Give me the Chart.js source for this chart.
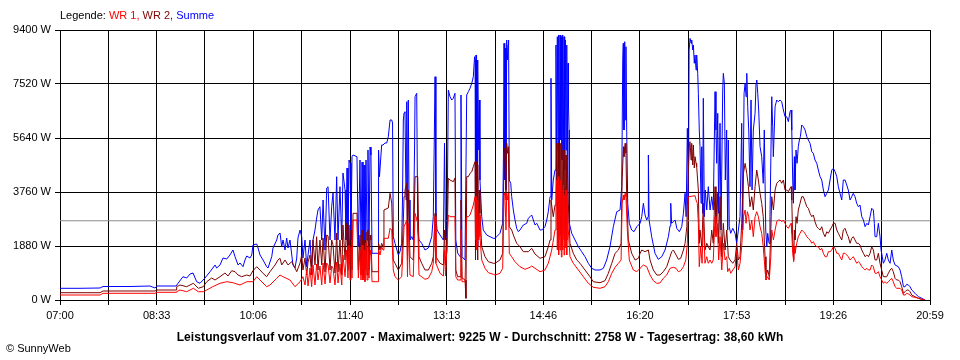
<!DOCTYPE html>
<html><head><meta charset="utf-8">
<script src="https://cdn.jsdelivr.net/npm/chart.js@4/dist/chart.umd.min.js"></script>
<style>
html,body{margin:0;padding:0;background:#fff;}
#wrap{position:relative;width:960px;height:360px;overflow:hidden;}
canvas{position:absolute;left:0;top:0;}
.t{position:absolute;font-family:"Liberation Sans",Arial,sans-serif;font-size:11px;color:#000;white-space:nowrap;line-height:13px;}
</style></head><body>
<div id="wrap">
<canvas id="c" width="960" height="360"></canvas>
<div class="t" style="left:60px;top:9px">Legende: <span style="color:#ff0000">WR 1,</span> <span style="color:#800000">WR 2,</span> <span style="color:#0000ff">Summe</span></div>
<div class="t" style="left:0;width:960px;text-align:center;top:330px;font-weight:bold;font-size:12px;letter-spacing:0.1px;line-height:14px">Leistungsverlauf vom 31.07.2007 - Maximalwert: 9225 W - Durchschnitt: 2758 W - Tagesertrag: 38,60 kWh</div>
<div class="t" style="left:6px;top:342px">© SunnyWeb</div>
</div>
<script>
// time axis: minutes after 07:00
const xGridMinutes = [0,46.6,93.2,139.8,186.4,233.1,279.7,326.3,372.9,419.5,466.1,512.7,559.3,605.9,652.6,699.2,745.8,792.4,839];
const xTickLabels = ['07:00','08:33','10:06','11:40','13:13','14:46','16:20','17:53','19:26','20:59'];
const yMax = 9400, yStep = 1880;
const averageW = 2758;

const summeMin = [0,19.3,38.6,41.5,67.5,86.8,91.6,93.5,111.9,113.8,118.6,122.2,125.4,128.3,131.8,135.0,139.8,144.7,149.5,151.1,154.3,157.2,160.8,163.9,166.8,168.8,171.7,173.6,176.5,178.4,180.1,183.2,184.9,186.1,189.7,191.0,192.9,195.8,199.3,200.6,204.2,205.4,209.0,210.2,212.2,213.8,215.1,217.0,218.6,219.9,221.8,223.5,224.7,226.6,228.3,229.5,231.5,233.1,234.3,236.3,237.9,239.2,241.1,242.7,244.0,245.9,247.5,248.8,250.7,252.4,253.7,255.6,257.2,258.5,260.4,262.0,263.3,265.2,266.8,268.1,270.0,271.7,272.9,274.9,275.8,276.8,277.7,278.7,279.7,280.6,281.6,282.6,286.4,287.7,289.3,290.3,291.3,292.2,293.2,294.1,295.1,296.1,297.0,298.0,299.0,299.9,300.9,306.7,307.2,308.1,310.2,311.5,313.4,315.1,316.6,318.3,319.9,320.7,321.4,323.1,326.3,327.9,329.5,330.3,331.1,331.8,332.7,333.7,334.4,335.1,335.9,336.6,337.5,339.2,340.7,341.9,342.4,344.0,345.0,346.2,348.8,352.0,355.2,358.5,360.0,361.7,362.5,363.6,366.5,369.7,370.8,371.8,373.2,374.5,376.1,377.8,379.3,380.9,381.7,383.5,385.8,386.7,387.7,390.6,392.2,393.8,395.4,397.1,398.6,399.8,400.3,400.7,401.2,401.7,402.2,402.6,403.1,403.8,404.4,405.0,406.7,408.2,411.5,414.7,417.9,419.5,424.3,426.9,427.7,428.2,428.9,429.4,430.1,430.8,431.4,432.1,432.6,433.3,434.7,435.6,437.2,438.8,440.4,442.0,443.6,446.8,450.1,451.6,453.3,454.9,456.5,458.1,459.8,462.9,464.6,467.7,469.4,470.9,472.6,473.5,474.2,475.7,477.4,478.3,479.0,479.6,480.3,480.9,481.5,482.2,482.9,483.5,484.1,484.8,485.4,486.1,486.7,487.3,488.0,488.7,489.2,489.9,490.4,490.9,491.2,493.5,496.7,499.9,503.1,506.3,509.5,512.8,516.0,520.8,524.0,527.2,530.4,533.6,536.9,540.1,541.7,542.7,543.2,543.9,544.6,545.2,545.8,546.5,547.5,549.0,551.3,553.6,556.2,559.4,561.0,562.6,564.2,565.8,567.1,567.4,568.1,570.6,573.8,577.0,580.3,583.5,586.7,588.3,589.0,589.8,591.5,593.2,594.8,597.3,599.6,601.2,602.8,603.8,605.0,606.0,606.7,607.6,608.6,609.2,610.2,610.8,611.7,612.4,613.4,614.0,615.0,615.6,616.5,617.2,618.2,618.9,619.8,620.4,621.4,622.3,623.7,625.2,626.9,628.5,630.0,631.7,632.6,633.3,634.3,635.2,636.5,637.5,639.1,639.7,640.7,641.6,642.9,643.9,644.5,645.4,646.8,648.8,651.0,652.6,654.2,655.8,657.4,658.4,659.7,660.7,661.6,662.3,663.2,664.2,665.4,666.4,667.4,668.6,670.3,671.2,671.9,672.9,673.8,675.1,676.7,678.2,679.2,680.6,681.6,682.5,683.8,684.7,686.4,687.3,687.9,689.6,691.2,692.7,694.4,696.0,697.6,699.2,700.8,702.4,704.0,705.0,705.7,706.6,707.2,708.2,708.8,709.8,710.8,712.0,713.0,714.0,715.3,716.9,718.5,720.2,721.7,723.3,725.0,726.5,728.1,729.8,731.3,733.0,734.6,736.2,737.8,739.5,741.0,742.6,744.3,745.8,747.5,749.1,750.6,752.2,753.9,755.4,757.1,758.7,760.2,761.9,763.5,765.0,766.7,768.3,769.9,771.5,773.2,774.8,776.4,778.1,779.6,781.2,782.8,784.4,785.3,786.0,787.6,789.2,790.8,791.8,793.0,794.0,795.6,797.3,798.8,800.5,802.1,803.6,805.3,808.5,810.1,811.7,813.4,815.0,816.6,818.2,819.7,821.4,824.6,827.8,831.1,834.2];
const summeW = [407,407,418,470,470,487,418,487,487,581,811,766,905,940,637,581,766,985,1219,1114,1219,1462,1427,1567,1741,1507,1219,1288,1159,1393,1532,1462,1567,1915,1950,1810,1567,1393,1159,1114,1507,1810,2089,2263,2333,1856,2089,1741,2159,1810,2089,1567,1219,1114,1462,2159,2437,2204,1462,2089,1159,1567,2089,1159,2089,2437,2855,3133,3248,2089,3482,1741,3899,3945,2089,3248,3725,2089,4293,2089,3945,2089,4422,3830,2089,4596,1856,4874,4770,2089,4989,5048,4989,1856,4874,1856,4804,1856,4700,1856,4874,2089,5222,1856,5327,5048,1626,1626,5222,4293,5396,5396,5466,5466,5685,6267,6267,6162,2204,1974,1567,1682,1974,3482,6267,6510,6556,3482,6904,2089,6963,3482,2089,2204,2089,5222,7078,7196,2437,2089,1974,1741,1810,2204,2900,7774,2900,2437,2263,2089,5466,2089,2263,7311,7078,6963,7023,7196,2089,1636,1507,7137,1507,1393,7137,7252,7370,7544,7774,8470,8356,2089,8530,3482,8356,1856,8007,5222,6963,4178,2900,2437,2263,2204,2148,2148,2322,2670,5222,8937,4178,8773,3830,9052,8356,8878,9052,4178,4063,3596,3133,2785,2496,2378,2437,2611,2670,2844,2900,2959,2785,2611,2670,2437,2437,2552,2785,3074,3596,7718,3482,4178,4526,8878,4178,9167,5222,9226,4526,9226,5570,9167,4874,9226,5222,9167,4526,9052,5222,8878,4874,8241,6730,5919,2670,2322,2089,1856,1682,1507,1278,1104,1044,1044,1104,1393,1856,2552,3074,3133,3945,8356,8937,5919,8993,6267,8819,5919,3367,2670,2437,2378,2552,2670,2900,3367,2959,2785,2900,5048,2785,2204,1626,1417,1507,1741,2204,2576,3367,2670,2726,2785,2496,2378,2552,3018,3715,2900,5978,3596,8704,9108,8937,9052,8704,8878,8241,8530,8007,8530,7892,7196,5919,5337,3367,5337,3018,7023,2900,3830,3133,3945,3133,3596,3133,7252,5919,4759,6500,3018,6152,2437,7311,7892,7544,4178,5919,2437,5570,2552,2322,2496,2322,1974,2437,2900,6152,2437,7196,7544,7078,7892,6730,5919,3945,6963,3830,5919,6500,7544,7659,7196,6615,5337,4989,4063,5919,2437,1856,2322,1974,2900,7078,6033,4989,6730,6963,6904,6963,6904,6615,6381,6381,6208,6556,6615,5919,4178,3367,4989,3830,5222,4759,5337,5570,5685,6093,6033,5919,5685,5570,5456,5163,5107,4874,4759,4526,4293,4178,3830,3596,3715,3830,4178,4526,4585,4467,4293,3945,3715,3482,4178,4178,4004,3830,3482,3596,3715,3596,3367,3248,3307,2900,2785,2552,2670,2611,2900,3193,3133,2670,2204,2204,2670,2204,1741,1507,1278,1393,1626,1393,1278,1741,1393,1219,1159,1044,811,463,463,547,522,463,348,233,115,59,0];

const wr2Min = [0,38.6,41.5,91.6,93.5,111.9,112.5,115.7,122.2,128.6,133.4,138.2,141.5,146.3,149.5,154.3,159.1,162.0,165.6,168.8,171.7,175.2,180.1,183.2,186.1,189.7,192.9,195.8,199.3,202.5,207.4,210.2,212.2,213.8,217.0,219.9,223.5,226.6,228.3,231.5,233.1,234.3,236.3,237.9,239.2,241.1,242.7,244.0,245.9,247.5,248.8,250.7,252.4,253.7,255.6,257.2,258.5,260.4,262.0,263.3,265.2,266.8,268.1,270.0,271.7,272.9,274.9,276.5,277.7,278.7,279.7,280.6,281.6,282.6,286.4,287.7,289.3,290.3,291.3,292.2,293.2,294.1,295.1,296.1,297.0,298.0,299.0,299.9,300.9,306.7,307.2,308.6,310.2,311.5,312.4,316.6,318.3,319.9,321.4,323.1,326.3,329.5,330.8,331.8,332.7,334.4,335.1,335.9,337.5,340.7,342.4,345.0,346.2,348.8,352.0,355.2,358.5,360.0,361.7,362.5,366.5,369.7,370.8,371.8,373.2,374.5,376.1,379.3,380.9,381.7,383.5,385.8,386.7,387.7,390.6,391.5,392.2,393.8,395.4,397.1,398.6,400.3,400.7,401.2,401.7,402.2,402.6,403.1,403.8,404.4,405.0,406.7,409.9,413.1,417.9,419.5,424.3,426.9,428.2,429.1,430.1,430.8,431.6,432.4,433.3,435.6,437.2,440.4,443.6,446.8,451.6,454.9,458.1,462.9,467.7,470.9,472.6,473.5,475.7,477.4,478.3,479.0,479.6,480.3,480.9,481.5,482.2,482.9,483.5,484.1,484.8,485.4,486.1,486.7,487.3,488.0,488.7,489.2,490.2,491.8,495.0,498.3,501.5,506.3,511.1,514.3,520.8,525.6,528.8,532.1,535.3,538.5,541.1,542.1,543.4,543.9,545.0,545.8,546.5,548.1,551.3,554.6,557.8,559.4,561.0,564.2,567.4,569.0,572.2,575.5,578.6,581.8,585.1,588.3,589.9,591.5,594.1,596.3,598.6,601.2,602.8,604.5,606.0,607.0,607.6,608.6,609.2,610.2,610.8,611.7,612.4,613.4,614.0,615.6,616.5,617.2,618.9,620.4,622.0,623.7,625.2,626.9,628.5,630.0,631.7,632.6,633.9,635.2,636.5,638.2,639.7,641.4,643.0,644.5,646.2,648.8,651.0,652.6,654.2,655.8,657.4,659.1,660.7,662.3,663.9,665.4,667.1,668.6,670.3,671.9,673.5,675.1,676.7,678.2,679.9,680.8,682.5,684.0,685.5,686.4,688.0,689.6,691.2,692.7,694.4,696.0,697.6,699.2,700.8,702.4,704.0,705.0,705.7,706.6,707.6,708.2,708.8,709.8,710.8,712.0,713.7,715.3,716.9,718.5,720.2,721.7,723.3,725.0,726.5,728.1,729.8,731.3,733.0,734.6,736.2,737.8,739.5,741.0,742.6,744.3,745.8,747.5,749.1,750.6,752.2,753.9,755.4,757.1,758.7,760.2,761.9,763.5,765.0,766.7,768.3,769.9,771.5,773.2,774.8,776.4,778.1,779.6,781.2,782.8,784.4,786.0,787.6,789.2,790.8,792.4,794.0,797.3,798.8,800.5,802.1,803.6,805.3,806.9,808.5,810.1,811.7,813.4,815.0,816.6,818.2,819.7,821.4,824.6,827.8,831.1,834.2];
const wr2W = [254,254,313,313,348,348,463,522,463,581,407,463,637,766,696,811,940,836,1020,985,870,811,870,836,1020,1159,1044,930,811,985,1219,1393,1452,1219,1393,1219,1333,1114,985,1288,1567,1044,1462,870,1323,1567,870,2089,1219,2204,1044,2089,1219,2159,975,2263,2228,1044,2089,1915,940,2333,975,2089,870,2611,1393,2670,1044,2611,1219,2437,1044,3018,3018,1044,2263,870,2437,801,2089,1044,2367,870,2437,1044,2263,2089,985,985,1974,1741,1974,1856,3133,3203,3715,3377,1393,1278,1044,1278,2437,3596,3830,4063,1393,3830,1507,1393,4293,4293,1507,1278,1044,1044,1278,1507,3018,1507,1278,1219,2437,1219,1741,4237,4178,4119,4247,1044,811,811,3482,766,696,59,4293,4293,4411,4467,4641,4815,1393,4815,2437,4700,1393,4526,2437,3830,3018,1856,1507,1333,1278,1278,1393,1626,4989,5292,3482,5456,5107,5337,2552,2437,2263,1974,1856,1682,1682,1800,1601,1452,1507,1856,2089,3482,2900,3307,3830,5456,2437,5456,2089,5396,2263,5456,1915,5222,2263,5396,2089,5222,2437,5048,2089,4874,3367,1974,1626,1393,1278,1044,811,637,602,672,930,1278,1626,1741,1974,4178,5337,4989,5456,5107,3596,2089,1626,1393,1452,1626,1741,1682,1741,1393,1044,870,870,985,1159,1507,1682,1741,1567,1417,1452,1741,1974,2552,4526,5456,5511,4874,5456,4700,5396,4596,4989,4759,4641,3830,1974,2437,1856,3367,1741,1974,1856,1741,2437,1974,3945,2670,3715,1974,3596,1507,2670,1741,2437,1507,1393,1278,1393,1974,1393,1507,2670,4411,4759,4411,3945,3248,3596,3133,3945,4526,4178,3715,3367,2900,1507,811,1044,811,2437,3596,3133,3830,4063,4119,4178,4063,4178,3830,3830,3770,3889,3945,3482,2089,1393,2437,2089,2900,2670,3133,3367,3596,3596,3422,3248,3193,3018,2900,2959,2726,2552,2496,2437,2552,2322,2204,2378,2322,2437,2552,2670,2670,2437,2322,2204,2089,2437,2496,2322,2204,1974,2148,2204,2089,1974,1974,1915,1741,1626,1507,1567,1507,1626,1856,1741,1393,1393,1626,1278,1044,811,811,930,1044,1104,985,755,696,696,637,463,233,289,348,348,289,174,115,59,24,0];

const wr1Min = [0,38.6,41.5,91.6,93.5,111.9,112.5,115.7,122.2,128.6,133.4,138.2,141.5,147.3,154.3,160.8,166.8,173.6,180.1,186.1,189.7,192.9,199.3,202.5,209.0,212.2,215.1,221.8,226.6,231.5,234.3,236.3,237.9,239.2,241.1,242.7,244.0,245.9,247.5,248.8,250.7,252.4,253.7,255.6,257.2,258.5,260.4,262.0,263.3,265.2,266.8,268.1,270.0,271.7,272.9,274.9,276.5,277.7,278.7,279.7,280.6,281.6,282.6,286.4,287.7,289.3,290.3,291.3,292.2,293.2,294.1,295.1,296.1,297.0,298.0,299.0,299.9,300.9,306.7,307.2,308.6,310.2,311.5,312.4,316.6,318.3,319.9,321.4,323.1,326.3,329.5,330.8,331.8,334.4,335.1,335.9,337.5,340.7,342.4,345.0,346.2,348.8,352.0,355.2,358.5,360.0,361.7,362.5,366.5,369.7,370.8,371.8,374.5,376.1,380.9,381.7,383.5,385.8,386.7,387.7,390.6,392.2,393.8,395.4,397.1,398.6,400.3,400.7,401.2,401.7,402.2,402.6,403.1,403.8,404.4,405.0,406.7,409.9,413.1,417.9,419.5,424.3,426.9,428.2,429.1,430.1,430.8,431.6,432.4,433.3,435.6,438.8,443.6,448.4,453.3,454.9,458.1,462.9,467.7,470.9,474.2,477.4,478.3,479.0,479.6,480.3,480.9,481.5,482.2,482.9,483.5,484.1,484.8,485.4,486.1,486.7,487.3,488.0,488.7,489.2,490.2,491.8,495.0,499.9,504.7,509.5,514.3,520.8,525.6,528.8,532.1,535.3,538.5,541.1,542.1,543.4,543.9,545.0,545.8,547.1,549.0,552.9,556.2,559.4,562.6,565.8,569.0,572.2,575.5,578.6,581.8,585.1,588.3,591.5,594.1,596.3,598.6,601.2,603.5,605.0,606.0,612.4,613.4,614.6,615.6,616.5,617.9,619.2,620.4,622.0,623.7,625.2,626.9,628.5,630.0,631.7,632.6,633.9,635.2,636.5,638.2,639.7,641.4,643.0,643.9,645.4,646.8,648.8,651.0,652.6,654.2,655.8,657.4,659.1,660.7,661.6,662.9,664.2,665.4,667.1,668.6,670.3,671.9,673.5,675.1,676.7,678.2,679.9,680.8,682.5,684.0,685.5,686.4,688.0,689.6,691.2,692.7,694.4,696.0,697.6,699.2,700.8,702.4,704.0,705.0,705.7,706.6,707.6,708.2,708.8,710.5,712.0,713.7,715.3,716.9,718.5,720.2,721.7,723.3,725.0,726.5,728.1,729.8,731.3,733.0,734.6,736.2,737.8,739.5,741.0,742.6,744.3,745.8,747.5,749.1,750.6,752.2,753.9,755.4,757.1,758.7,760.2,761.9,763.5,765.0,766.7,768.3,769.9,771.5,773.2,774.8,776.4,778.1,779.6,781.2,782.8,784.4,786.0,787.6,789.2,790.8,792.4,794.0,795.6,797.3,798.8,800.5,802.1,803.6,805.3,806.9,810.1,811.7,813.4,815.0,816.6,818.2,819.7,821.4,824.6,827.8,831.1,834.2];
const wr1W = [174,174,233,233,268,268,289,348,289,407,289,289,348,463,581,637,602,522,637,637,811,696,463,522,755,870,811,696,463,637,811,522,1044,487,1114,463,1219,522,1253,696,1184,522,1288,557,1288,1219,592,1184,1114,522,1323,592,1253,522,1567,811,1741,766,1915,696,1856,766,2785,2785,766,1741,696,1915,696,1741,637,1984,696,1856,766,1741,1567,637,637,1741,1567,1856,1741,2148,2148,2496,2437,1044,811,696,811,1741,2552,2785,811,2670,870,811,3018,2670,870,811,721,755,985,1278,2900,1278,930,836,1741,836,2959,2900,2900,811,696,696,2437,637,637,2900,2900,2959,3133,3307,3596,2089,3596,1741,3482,1856,3307,2089,2959,2204,1393,1104,950,895,870,930,1104,3715,3656,2437,3715,3482,3715,1626,1507,1333,1159,1069,1138,1184,1104,985,1044,1278,1741,2437,3133,4178,1741,4293,1567,4004,1741,4178,1497,3830,1741,4004,1567,3656,1810,3830,1567,3482,2437,1507,1278,1044,811,581,442,407,463,637,930,1138,1278,1393,3367,3656,3482,3715,3596,2437,1393,1044,985,1104,1219,1159,870,672,581,592,755,870,1104,1138,1104,985,1020,1159,1393,1974,3596,3631,3482,3367,2670,1159,1856,1278,2900,1278,1507,1278,1393,1278,1393,2900,2204,2670,1393,2204,1044,1974,1393,1507,985,1104,930,1044,1159,1741,1044,1278,1856,2900,3133,2670,3074,2900,2437,2785,2204,2900,3074,2900,2552,2322,1856,1044,696,811,696,1507,2437,2089,2437,2726,2785,2785,2726,2785,2670,2552,2496,2611,2670,2322,1626,1333,1856,1626,1974,2204,2322,2437,2378,2322,2204,2148,2089,1974,2030,1915,1856,1856,1741,1799,1626,1507,1507,1682,1682,1741,1856,1800,1626,1626,1507,1393,1626,1626,1567,1507,1393,1452,1507,1393,1278,1333,1278,1159,1104,1044,1104,1044,1044,1219,1159,930,930,985,811,696,581,637,581,637,696,755,637,463,407,407,348,174,174,233,209,174,115,94,59,24,0];

const FONT = '"Liberation Sans", Arial, sans-serif';
Chart.defaults.font.family = FONT;
Chart.defaults.font.size = 11;
Chart.defaults.color = '#000';

function pts(t, w) { return t.map((x, i) => ({ x: x, y: w[i] })); }

const lineBase = { borderWidth: 1, pointRadius: 0, tension: 0, fill: false, parsing: false };
new Chart(document.getElementById('c'), {
  type: 'line',
  data: {
    datasets: [
      Object.assign({ label: 'WR 1', data: pts(wr1Min, wr1W), borderColor: '#ff0000' }, lineBase),
      Object.assign({ label: 'WR 2', data: pts(wr2Min, wr2W), borderColor: '#800000' }, lineBase),
      Object.assign({ label: 'Summe', data: pts(summeMin, summeW), borderColor: '#0000ff' }, lineBase),
      Object.assign({ label: 'Durchschnitt', data: [{ x: 0, y: averageW }, { x: 839, y: averageW }], borderColor: '#8c8c8c' }, lineBase)
    ]
  },
  options: {
    responsive: false,
    animation: false,
    devicePixelRatio: 1,
    layout: { padding: { left: 0, right: 30, top: 30, bottom: 0 } },
    plugins: { legend: { display: false }, tooltip: { enabled: false } },
    scales: {
      x: {
        type: 'linear', min: 0, max: 839,
        afterBuildTicks: s => { s.ticks = xGridMinutes.map(v => ({ value: v })); },
        afterFit: s => { s.height = 60; },
        grid: { color: '#000', lineWidth: 1, tickLength: 5, drawTicks: true },
        border: { color: '#000' },
        ticks: { autoSkip: false, maxRotation: 0, minRotation: 0, padding: 4, color: '#000',
          callback: (v, i) => (i % 2 === 0 ? xTickLabels[i / 2] : '') }
      },
      y: {
        min: 0, max: yMax,
        afterFit: s => { s.width = 60; },
        grid: { color: '#000', lineWidth: 1, tickLength: 5, drawTicks: true },
        border: { color: '#000' },
        ticks: { stepSize: yStep, padding: 4, color: '#000', callback: v => v + ' W' }
      }
    }
  }
});
</script>
</body></html>
